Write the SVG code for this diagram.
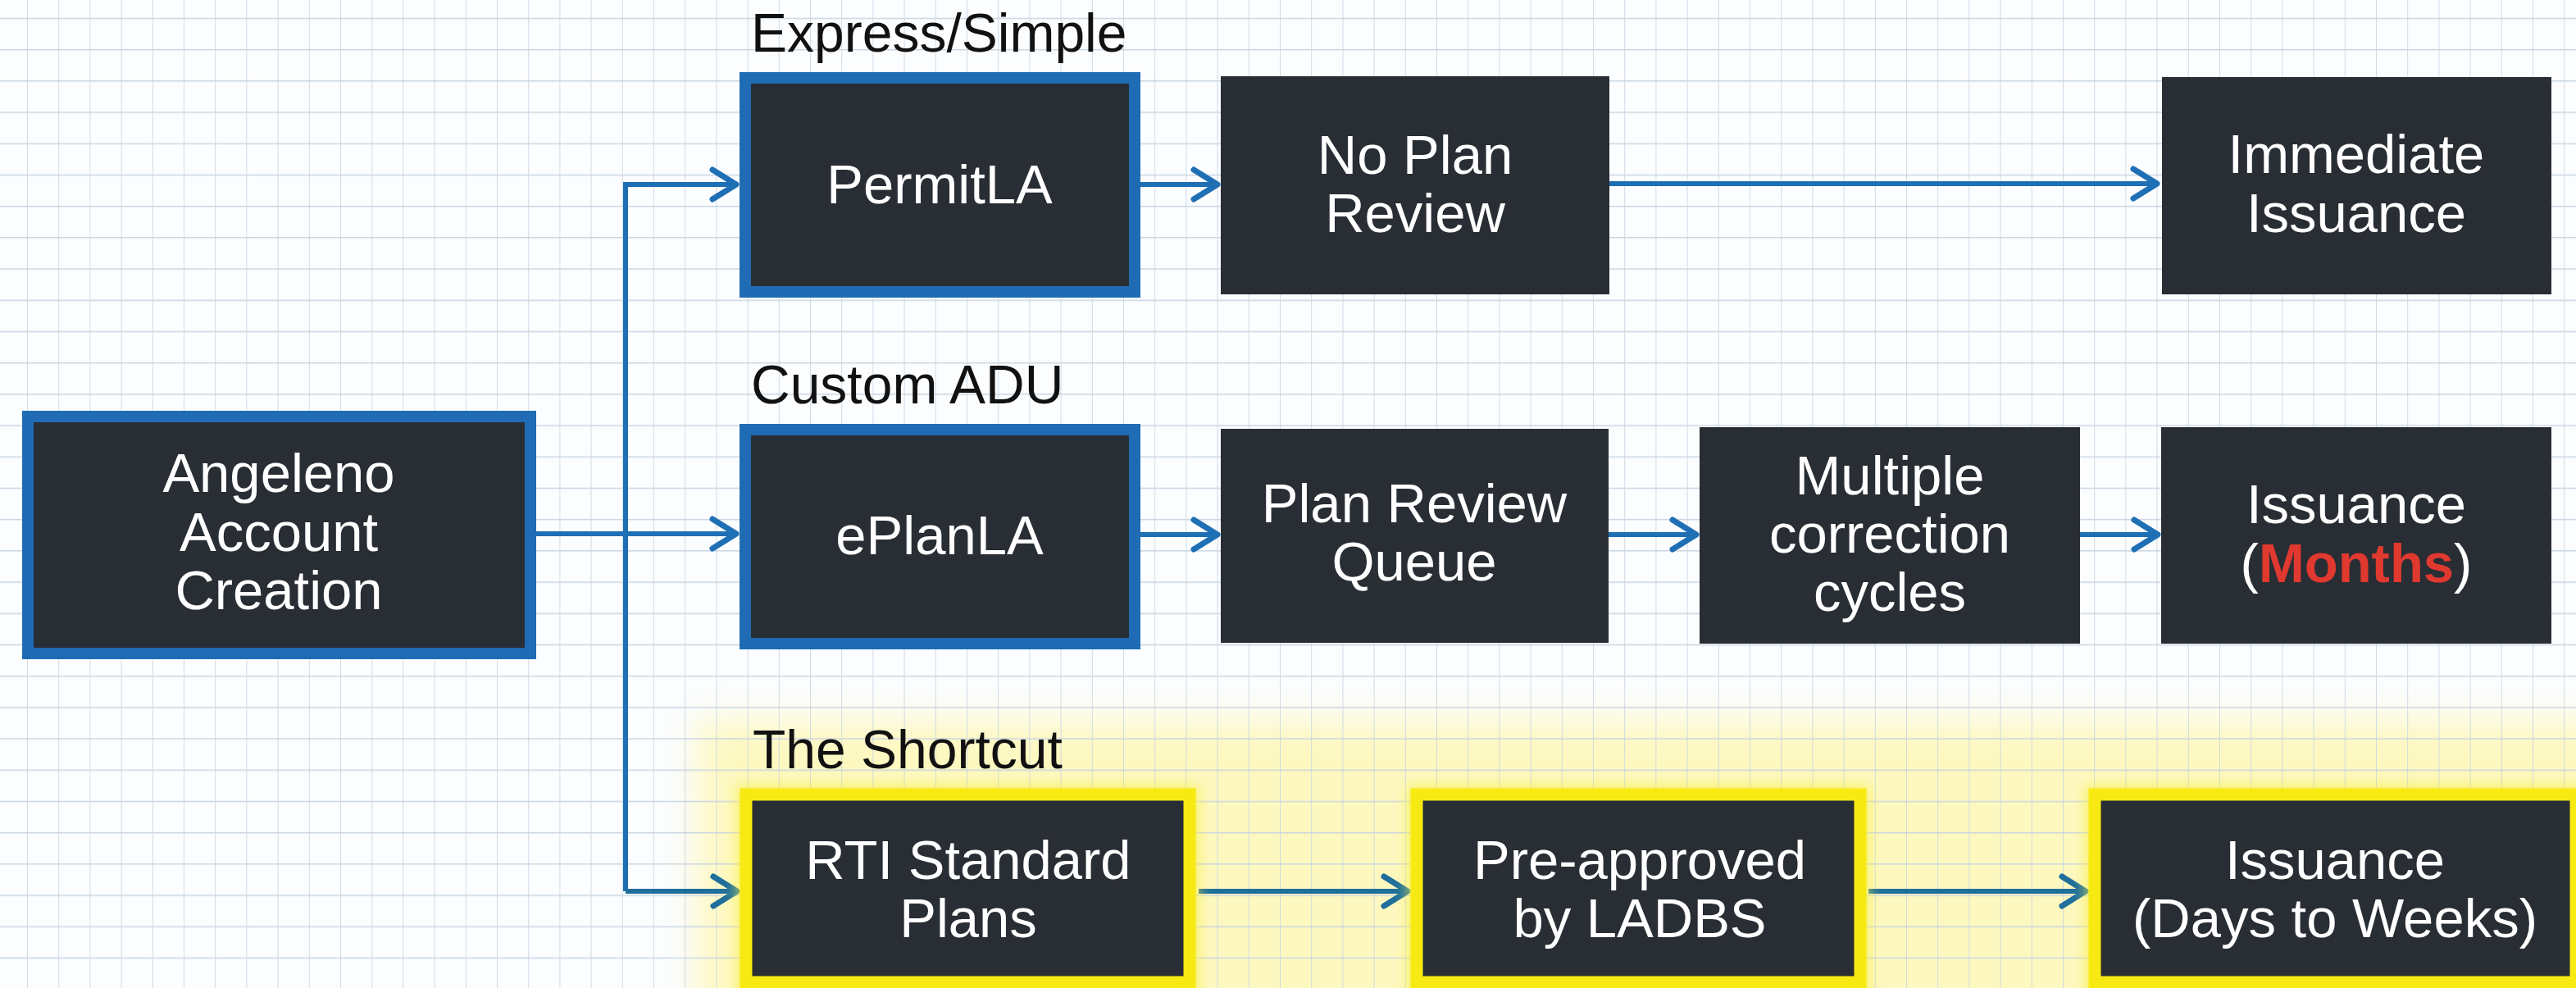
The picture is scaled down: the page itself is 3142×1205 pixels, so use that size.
<svg xmlns="http://www.w3.org/2000/svg" width="3142" height="1205" viewBox="0 0 3142 1205">
<defs>
<pattern id="grid" patternUnits="userSpaceOnUse" x="33" y="21.7" width="38.2" height="38.2">
<line x1="0" y1="0" x2="0" y2="38.2" stroke="#c4d3e2" stroke-width="1.6"/>
<line x1="0" y1="0" x2="38.2" y2="0" stroke="#c9d5e1" stroke-width="2.8"/>
</pattern>
<filter id="glow" x="-20%" y="-50%" width="140%" height="200%"><feGaussianBlur stdDeviation="22"/></filter>
<filter id="glow2" x="-20%" y="-30%" width="140%" height="160%"><feGaussianBlur stdDeviation="8"/></filter>
<marker id="arr" markerUnits="userSpaceOnUse" markerWidth="60" markerHeight="60" viewBox="-40 -30 50 60" refX="0" refY="0" orient="auto" overflow="visible">
<path d="M-31,-18 L-2,0 L-31,18" fill="none" stroke="#1f6fb5" stroke-width="7" stroke-linecap="round" stroke-linejoin="round"/>
</marker>
<marker id="arrY" markerUnits="userSpaceOnUse" markerWidth="60" markerHeight="60" viewBox="-40 -30 50 60" refX="0" refY="0" orient="auto" overflow="visible">
<path d="M-31,-18 L-2,0 L-31,18" fill="none" stroke="#1f6e9c" stroke-width="7" stroke-linecap="round" stroke-linejoin="round"/>
</marker>
</defs>
<style>
.box{fill:#292d34}
.blue{stroke:#1f6cb5;stroke-width:14}
.yel{stroke:#f6ea12;stroke-width:15}
.t{font-family:"Liberation Sans",Arial,sans-serif;font-size:67px;fill:#ffffff;text-anchor:middle}
.h{font-family:"Liberation Sans",Arial,sans-serif;font-size:66px;fill:#111111}
.c{fill:none;stroke:#1f6fb5;stroke-width:6;marker-end:url(#arr)}
.cy{fill:none;stroke:#1f6e9c;stroke-width:6;marker-end:url(#arrY)}
</style>
<rect x="0" y="0" width="3142" height="1205" fill="#fbfdff"/>
<g id="highlight">
<rect x="850" y="878" width="2400" height="400" fill="#fff59a" opacity="0.62" filter="url(#glow)"/>
</g>
<rect x="0" y="0" width="3142" height="1205" fill="url(#grid)"/>

<g id="labels">
<text class="h" x="916" y="63">Express/Simple</text>
<text class="h" x="916" y="492">Custom ADU</text>
<text class="h" x="918" y="937">The Shortcut</text>
</g>

<g id="connectors">
<path class="c" d="M763,1087 L763,225 L900,225"/>
<path class="c" d="M654,651 L900,651"/>
<path class="cy" d="M763,1087 L901,1087"/>
<path class="c" d="M1391,225 L1487,225"/>
<path class="c" d="M1963,224 L2633,224"/>
<path class="c" d="M1391,652 L1487,652"/>
<path class="c" d="M1962,652 L2071,652"/>
<path class="c" d="M2537,652 L2634,652"/>
<path class="cy" d="M1462,1087 L1719,1087"/>
<path class="cy" d="M2279,1087 L2546,1087"/>
</g>

<g id="node-angeleno">
<rect class="box blue" x="34" y="508" width="613" height="289"/>
<text class="t" x="340" y="600">Angeleno</text>
<text class="t" x="340" y="672">Account</text>
<text class="t" x="340" y="743">Creation</text>
</g>
<g id="node-permitla">
<rect class="box blue" x="909" y="95" width="475" height="261"/>
<text class="t" x="1146" y="248">PermitLA</text>
</g>
<g id="node-noplanreview">
<rect class="box" x="1489" y="93" width="474" height="266"/>
<text class="t" x="1726" y="212">No Plan</text>
<text class="t" x="1726" y="283">Review</text>
</g>
<g id="node-immediate">
<rect class="box" x="2637" y="94" width="475" height="265"/>
<text class="t" x="2874" y="211">Immediate</text>
<text class="t" x="2874" y="283">Issuance</text>
</g>
<g id="node-eplanla">
<rect class="box blue" x="909" y="524" width="475" height="261"/>
<text class="t" x="1146" y="676">ePlanLA</text>
</g>
<g id="node-planreviewqueue">
<rect class="box" x="1489" y="523" width="473" height="261"/>
<text class="t" x="1725" y="637">Plan Review</text>
<text class="t" x="1725" y="708">Queue</text>
</g>
<g id="node-multiple">
<rect class="box" x="2073" y="521" width="464" height="264"/>
<text class="t" x="2305" y="603">Multiple</text>
<text class="t" x="2305" y="674">correction</text>
<text class="t" x="2305" y="745">cycles</text>
</g>
<g id="node-issuance-months">
<rect class="box" x="2636" y="521" width="476" height="264"/>
<text class="t" x="2874" y="638">Issuance</text>
<text class="t" x="2874" y="710">(<tspan fill="#e0392f" font-weight="bold">Months</tspan>)</text>
</g>
<g id="node-rti">
<rect x="910" y="969" width="541" height="240" fill="none" stroke="#f8ee3a" stroke-width="22" opacity="0.7" filter="url(#glow2)"/>
<rect class="box yel" x="910" y="969" width="541" height="229"/>
<text class="t" x="1181" y="1072">RTI Standard</text>
<text class="t" x="1181" y="1143">Plans</text>
</g>
<g id="node-preapproved">
<rect x="1728" y="969" width="541" height="240" fill="none" stroke="#f8ee3a" stroke-width="22" opacity="0.7" filter="url(#glow2)"/>
<rect class="box yel" x="1728" y="969" width="541" height="229"/>
<text class="t" x="2000" y="1072">Pre-approved</text>
<text class="t" x="2000" y="1143">by LADBS</text>
</g>
<g id="node-issuance-days">
<rect x="2555" y="969" width="600" height="240" fill="none" stroke="#f8ee3a" stroke-width="22" opacity="0.7" filter="url(#glow2)"/>
<rect class="box yel" x="2555" y="969" width="587" height="229"/>
<text class="t" x="2848" y="1072">Issuance</text>
<text class="t" x="2848" y="1143">(Days to Weeks)</text>
</g>
</svg>
